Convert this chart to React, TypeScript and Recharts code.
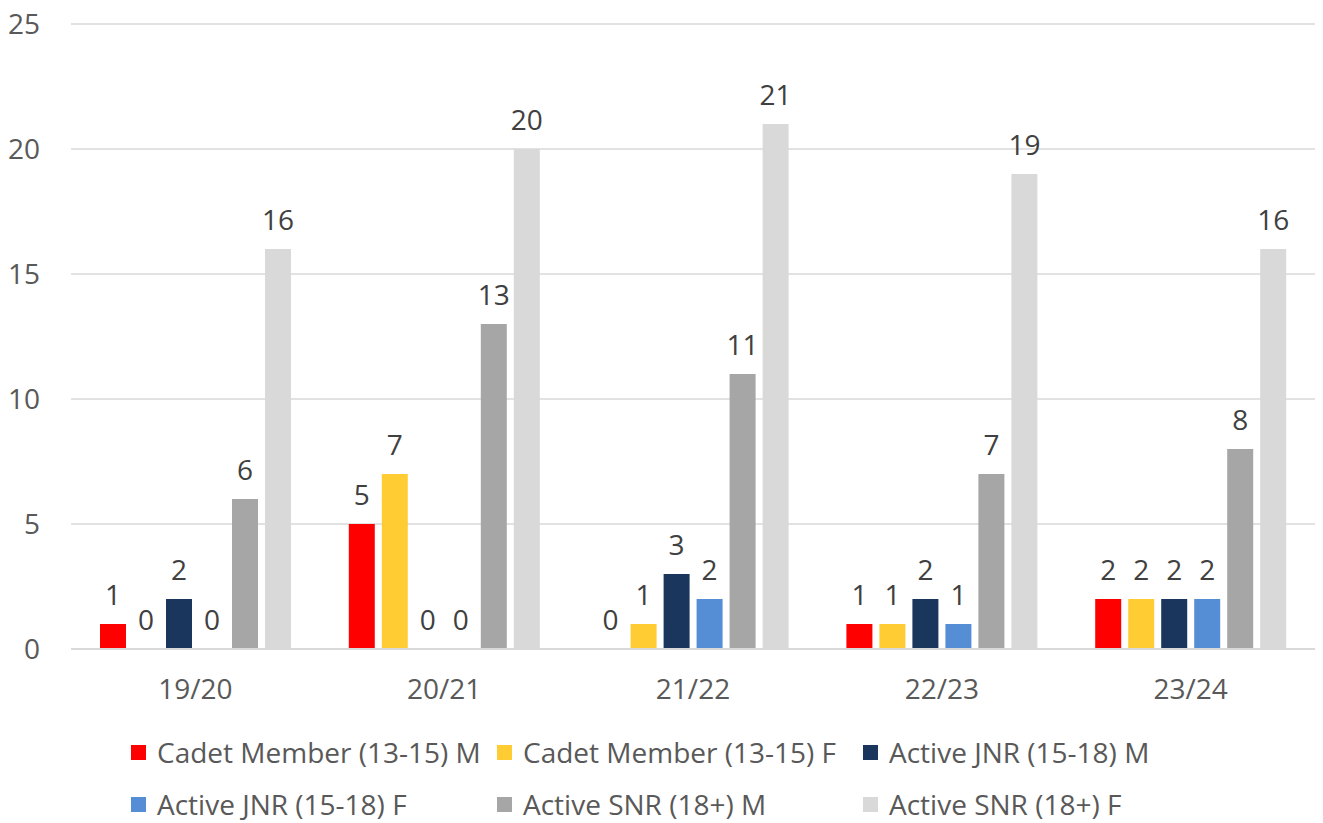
import { BarChart, Bar, XAxis, YAxis, CartesianGrid, LabelList } from 'recharts';

const seasons = ['19/20', '20/21', '21/22', '22/23', '23/24'];

const cadetM = [1, 5, 0, 1, 2];
const cadetF = [0, 7, 1, 1, 2];
const jnrM = [2, 0, 3, 2, 2];
const jnrF = [0, 0, 2, 1, 2];
const snrM = [6, 13, 11, 7, 8];
const snrF = [16, 20, 21, 19, 16];

const yTicks = [0, 5, 10, 15, 20, 25];

const series = [
  { key: 'cadetM', name: 'Cadet Member (13-15) M', color: '#FF0000', values: cadetM },
  { key: 'cadetF', name: 'Cadet Member (13-15) F', color: '#FFCD33', values: cadetF },
  { key: 'jnrM', name: 'Active JNR (15-18) M', color: '#1A365D', values: jnrM },
  { key: 'jnrF', name: 'Active JNR (15-18) F', color: '#558ED5', values: jnrF },
  { key: 'snrM', name: 'Active SNR (18+) M', color: '#A6A6A6', values: snrM },
  { key: 'snrF', name: 'Active SNR (18+) F', color: '#D9D9D9', values: snrF },
];

const data = seasons.map((season, i) => {
  const row: Record<string, string | number> = { season };
  series.forEach((s) => {
    row[s.key] = s.values[i];
  });
  return row;
});

const FONT = '"Open Sans", sans-serif';
const TEXT = '#595959';
const FONT_SIZE = 28;

// zero-value bars still need their "0" label, so draw it ourselves
function ValueLabel(props: any) {
  const { x, y, width, value } = props;
  if (value === undefined || value === null) return null;
  return (
    <text
      x={Number(x) + Number(width) / 2}
      y={Number(y) - 19}
      textAnchor="middle"
      fontSize={FONT_SIZE}
      fontFamily={FONT}
      fill="#404040"
    >
      {value}
    </text>
  );
}

function ChartLegend() {
  return (
    <div
      style={{
        position: 'absolute',
        left: 131,
        top: 733,
        display: 'grid',
        gridTemplateColumns: '366px 366px 366px',
        rowGap: 14,
        fontFamily: FONT,
        fontSize: FONT_SIZE,
        color: TEXT,
      }}
    >
      {series.map((s) => (
        <div key={s.key} style={{ display: 'flex', alignItems: 'center', height: 38, whiteSpace: 'nowrap' }}>
          <span style={{ width: 15, height: 15, background: s.color, marginRight: 11, flex: 'none' }} />
          <span>{s.name}</span>
        </div>
      ))}
    </div>
  );
}

export default function App() {
  return (
    <div style={{ position: 'absolute', left: 0, top: 0, width: 1323, height: 823, background: '#fff' }}>
      <BarChart
        width={1323}
        height={720}
        data={data}
        margin={{ top: 24, right: 8, left: 0, bottom: 0 }}
        barSize={26}
        barGap={7}
      >
        <CartesianGrid vertical={false} stroke="#D9D9D9" strokeWidth={1.5} />
        <XAxis
          dataKey="season"
          height={71}
          axisLine={{ stroke: '#D9D9D9', strokeWidth: 2 }}
          tickLine={false}
          tickSize={0}
          tickMargin={30}
          tick={{ fontSize: FONT_SIZE, fill: TEXT, fontFamily: FONT }}
        />
        <YAxis
          width={71}
          domain={[0, 25]}
          ticks={yTicks}
          axisLine={false}
          tickLine={false}
          tickSize={0}
          tickMargin={31}
          tick={{ fontSize: FONT_SIZE, fill: TEXT, fontFamily: FONT }}
        />
        {series.map((s) => (
          <Bar
            key={s.key}
            dataKey={s.key}
            name={s.name}
            fill={s.color}
            minPointSize={0.01}
            isAnimationActive={false}
          >
            <LabelList dataKey={s.key} content={ValueLabel} />
          </Bar>
        ))}
      </BarChart>
      <ChartLegend />
    </div>
  );
}
